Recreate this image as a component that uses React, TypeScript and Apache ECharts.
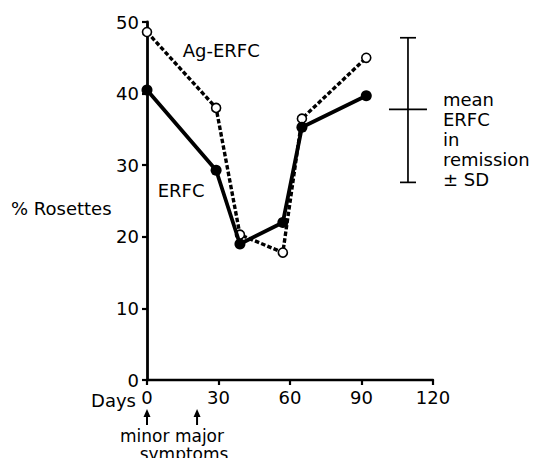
import React, { useEffect, useRef } from "react";
import * as echarts from "echarts";

const xTicks = [0, 30, 60, 90, 120];
const yTicks = [0, 10, 20, 30, 40, 50];
const days = [0, 29, 39, 57, 65, 92];
const erfc = [40.5, 29.3, 19.0, 22.0, 35.3, 39.7];
const agErfc = [48.6, 38.0, 20.3, 17.8, 36.5, 45.0];
// mean ERFC in remission ± SD: [day position, low, mean, high]
const remission = [[109.5, 27.6, 37.8, 47.8]];
const symptomDays = [0, 21];

const FONT = "DejaVu Sans";

export default function App() {
  const ref = useRef<HTMLDivElement>(null);
  useEffect(() => {
    if (!ref.current) return;
    const chart = echarts.init(ref.current, undefined, { renderer: "svg" });
    const axisLabel = { color: "#000", fontSize: 18, fontFamily: FONT };
    chart.setOption({
      animation: false,
      backgroundColor: "#fff",
      grid: { left: 147, right: 105, top: 22, bottom: 78 },
      xAxis: {
        type: "value",
        min: xTicks[0],
        max: xTicks[xTicks.length - 1],
        interval: 30,
        axisLine: { show: true, lineStyle: { color: "#000", width: 2.4 } },
        axisTick: { show: true, inside: false, length: 5, lineStyle: { color: "#000", width: 2.2 } },
        splitLine: { show: false },
        axisLabel: { ...axisLabel, margin: 8 },
      },
      yAxis: {
        type: "value",
        min: yTicks[0],
        max: yTicks[yTicks.length - 1],
        interval: 10,
        axisLine: { show: true, lineStyle: { color: "#000", width: 2.8 } },
        axisTick: { show: true, inside: false, length: 5, lineStyle: { color: "#000", width: 2.2 } },
        splitLine: { show: false },
        axisLabel: { ...axisLabel, margin: 8 },
      },
      series: [
        {
          name: "Ag-ERFC",
          type: "line",
          data: days.map((d, i) => [d, agErfc[i]]),
          symbol: "circle",
          symbolSize: 9,
          itemStyle: { color: "#fff", borderColor: "#000", borderWidth: 1.6 },
          lineStyle: { color: "#000", width: 3.4, type: [4.5, 2.2] },
          z: 3,
        },
        {
          name: "ERFC",
          type: "line",
          data: days.map((d, i) => [d, erfc[i]]),
          symbol: "circle",
          symbolSize: 11,
          itemStyle: { color: "#000" },
          lineStyle: { color: "#000", width: 3.8 },
          z: 4,
        },
        {
          type: "custom",
          data: remission,
          renderItem: (params: any, api: any) => {
            const x = api.value(0);
            const lo = api.coord([x, api.value(1)]);
            const mid = api.coord([x, api.value(2)]);
            const hi = api.coord([x, api.value(3)]);
            const st = { stroke: "#000", lineWidth: 1.7 };
            return {
              type: "group",
              children: [
                { type: "line", shape: { x1: hi[0], y1: hi[1], x2: lo[0], y2: lo[1] }, style: st },
                { type: "line", shape: { x1: hi[0] - 8, y1: hi[1], x2: hi[0] + 8, y2: hi[1] }, style: st },
                { type: "line", shape: { x1: lo[0] - 8, y1: lo[1], x2: lo[0] + 8, y2: lo[1] }, style: st },
                { type: "line", shape: { x1: mid[0] - 19, y1: mid[1], x2: mid[0] + 19, y2: mid[1] }, style: st },
              ],
            };
          },
          z: 2,
        },
      ],
    });

    const px = (x: number, y: number) => chart.convertToPixel({ gridIndex: 0 }, [x, y]) as number[];
    const o = px(0, 0);
    const m0 = px(symptomDays[0], 0);
    const m1 = px(symptomDays[1], 0);
    const eb = px(remission[0][0], remission[0][2]);
    const ag = px(15, 46);
    const er = px(4.5, 26.5);
    const ros = px(0, 24);
    const ts = { fill: "#000", fontSize: 18, fontFamily: FONT };
    const arrow = (x: number) => [
      { type: "line", shape: { x1: x, y1: o[1] + 45, x2: x, y2: o[1] + 34 }, style: { stroke: "#000", lineWidth: 2 } },
      {
        type: "polygon",
        shape: { points: [[x - 3.5, o[1] + 37], [x + 3.5, o[1] + 37], [x, o[1] + 29]] },
        style: { fill: "#000" },
      },
    ];
    chart.setOption({
      graphic: [
        { type: "text", x: o[0] - 11, y: o[1] + 20, style: { ...ts, text: "Days", align: "right", verticalAlign: "middle" } },
        ...arrow(m0[0]),
        ...arrow(m1[0]),
        { type: "text", x: (m0[0] + m1[0]) / 2, y: o[1] + 56, style: { ...ts, fontSize: 17, text: "minor major", align: "center", verticalAlign: "middle" } },
        { type: "text", x: (m0[0] + m1[0]) / 2 + 12, y: o[1] + 74, style: { ...ts, fontSize: 17, text: "symptoms", align: "center", verticalAlign: "middle" } },
        { type: "text", x: 11, y: ros[1], style: { ...ts, text: "% Rosettes", align: "left", verticalAlign: "middle" } },
        { type: "text", x: ag[0], y: ag[1], style: { ...ts, text: "Ag-ERFC", align: "left", verticalAlign: "middle" } },
        { type: "text", x: er[0], y: er[1], style: { ...ts, text: "ERFC", align: "left", verticalAlign: "middle" } },
        {
          type: "text",
          x: eb[0] + 35,
          y: eb[1] - 20,
          style: { ...ts, text: "mean\nERFC\nin\nremission\n± SD", align: "left", verticalAlign: "top", lineHeight: 20 },
        },
      ],
    });
    return () => chart.dispose();
  }, []);
  return <div ref={ref} style={{ width: 538, height: 458, position: "absolute", left: 0, top: 0 }} />;
}
